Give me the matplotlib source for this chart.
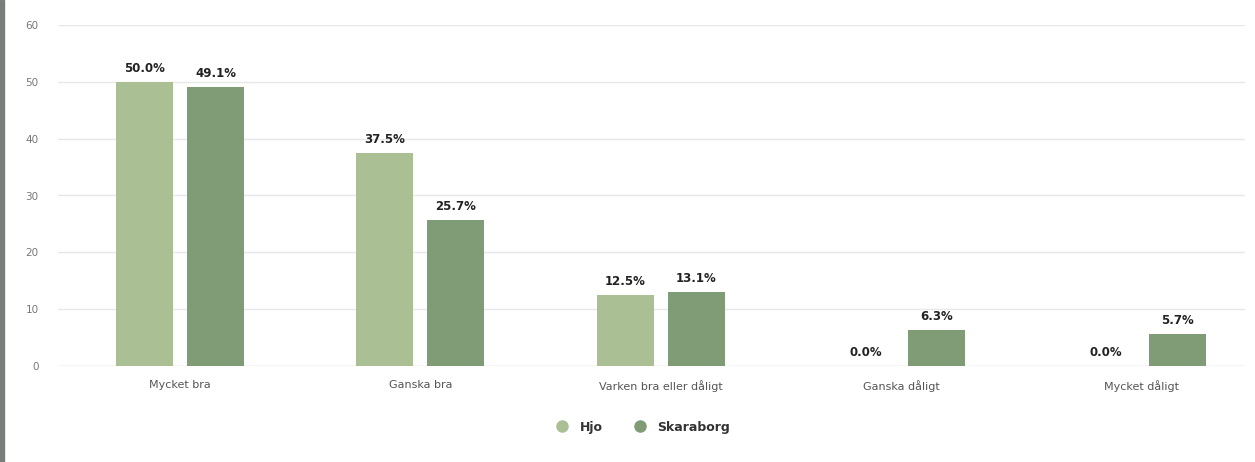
import matplotlib.pyplot as plt
import numpy as np
from matplotlib.lines import Line2D
from matplotlib.patches import Rectangle

categories = ["Mycket bra", "Ganska bra", "Varken bra eller dåligt", "Ganska dåligt", "Mycket dåligt"]
hjo = [50.0, 37.5, 12.5, 0.0, 0.0]
skaraborg = [49.1, 25.7, 13.1, 6.3, 5.7]
series_names = ["Hjo", "Skaraborg"]
colors = ["#abbf95", "#7f9c77"]

fig = plt.figure(figsize=(12.55, 4.62), dpi=100)
ax = fig.add_axes([58 / 1255, 96 / 462, 1187 / 1255, 341 / 462])

# thin grey strip at the left edge of the screenshot
fig.patches.append(Rectangle((0, 0), 4 / 1255, 1, transform=fig.transFigure,
                             color="#7a7e7b", zorder=0))

x = np.arange(len(categories))
width = 0.237
offset = 0.148

for vals, off, col in [(hjo, -offset, colors[0]), (skaraborg, offset, colors[1])]:
    bars = ax.bar(x + off, vals, width, color=col, zorder=3)
    for b, v in zip(bars, vals):
        ax.annotate(f"{v:.1f}%", (b.get_x() + b.get_width() / 2, v),
                    xytext=(0, 5), textcoords="offset points",
                    ha="center", va="bottom", fontsize=8.5,
                    fontweight="bold", color="#222222")

ax.set_xlim(-0.507, 4.43)
ax.set_ylim(0, 60)
ax.set_yticks(range(0, 61, 10))
ax.grid(axis="y", color="#e8e8e8", linewidth=1, zorder=0)
ax.set_axisbelow(True)
for s in ax.spines.values():
    s.set_visible(False)
ax.axhline(0, color="#dcdcdc", linewidth=1, zorder=2)

ax.set_xticks(x)
ax.set_xticklabels(categories, fontsize=8, color="#555555")
ax.tick_params(axis="both", length=0)
ax.tick_params(axis="x", pad=10)
ax.tick_params(axis="y", labelsize=7.5, labelcolor="#777777", pad=14)

handles = [Line2D([0], [0], marker="o", linestyle="", markersize=8,
                  markerfacecolor=c, markeredgecolor=c) for c in colors]
leg = fig.legend(handles, series_names, loc="center", bbox_to_anchor=(640 / 1255, 1 - 427 / 462),
                 ncol=2, frameon=False, handletextpad=0.4, columnspacing=2.0,
                 prop={"weight": "bold", "size": 9})
for t in leg.get_texts():
    t.set_color("#333333")

fig.savefig("out.png", dpi=100, facecolor="white")
